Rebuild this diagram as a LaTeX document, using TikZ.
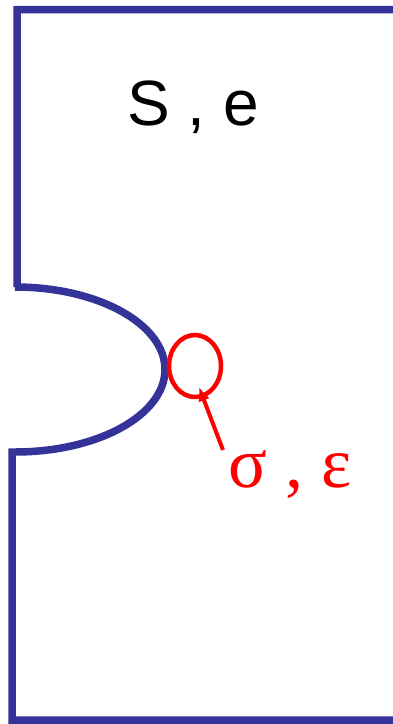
\documentclass[tikz,border=0pt]{standalone}
\usepackage{fontspec}
\setmainfont{Liberation Sans}
\newfontfamily\greekfont{Liberation Serif}
\usetikzlibrary{arrows.meta}
\definecolor{wall}{RGB}{51,51,153}

\begin{document}
\begin{tikzpicture}[x=1pt,y=-1pt]
\def\W{393}
\def\H{724}

\useasboundingbox (0,0) rectangle (\W,\H);

% plate outline with the notch
\draw[wall, line width=7.5pt] (\W,9.5) -- (17,9.5) -- (17,287) -- (15,287)
  arc[start angle=-90, end angle=90, x radius=150, y radius=82.5]
  -- (12,452) -- (12,720) -- (\W,720);

% local zone at the notch root
\coordinate (zone) at (195,366);
\draw[red, line width=4.5pt] (zone) ellipse[x radius=26, y radius=31];

\node[anchor=base, font=\fontsize{64}{70}\selectfont] (far) at (193,125) {S , e};
\node[anchor=base, red, font=\greekfont\fontsize{72}{78}\selectfont] (local) at (290,487) {σ , ε};

\coordinate (tail) at (223,450);
\coordinate (tip) at (199,387);
\draw[red, line width=4pt, -{Latex[length=14pt,width=12pt]}] (tail) -- (tip);
\end{tikzpicture}
\end{document}
